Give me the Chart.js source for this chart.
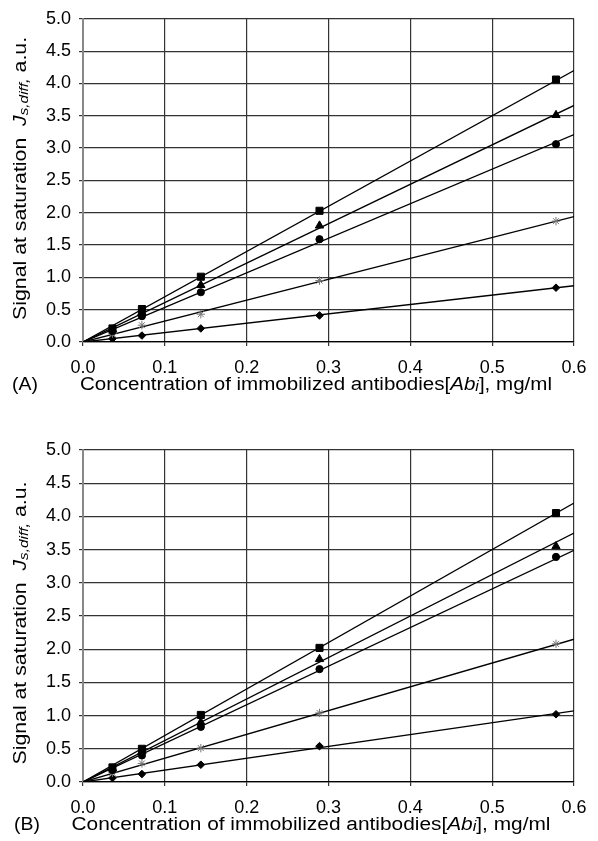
<!DOCTYPE html>
<html>
<head>
<meta charset="utf-8">
<script src="https://cdn.jsdelivr.net/npm/chart.js@4/dist/chart.umd.min.js"></script>
<style>
body{margin:0;background:#fff;}
canvas{display:block;}
</style>
</head>
<body>
<canvas id="chartA" width="598" height="420"></canvas>
<canvas id="chartB" width="598" height="421"></canvas>
<script>
// concentrations of immobilized antibodies, mg/ml
const conc = [0.036, 0.072, 0.144, 0.289, 0.578];
const xTicks = [0, 0.1, 0.2, 0.3, 0.4, 0.5, 0.6];
const yTicks = [0, 0.5, 1, 1.5, 2, 2.5, 3, 3.5, 4, 4.5, 5];

// panel A
const aSquare = [0.21, 0.51, 1.01, 2.03, 4.06];
const aTriangle = [0.19, 0.46, 0.88, 1.80, 3.51];
const aCircle = [0.17, 0.40, 0.77, 1.59, 3.06];
const aStar = [0.13, 0.26, 0.43, 0.95, 1.87];
const aDiamond = [0.05, 0.10, 0.21, 0.41, 0.84];
const aFitEnd = [4.20, 3.66, 3.21, 1.94, 0.87]; // trend line value at x = 0.6

// panel B
const bSquare = [0.22, 0.50, 1.01, 2.02, 4.05];
const bTriangle = [0.20, 0.46, 0.90, 1.85, 3.55];
const bCircle = [0.18, 0.40, 0.83, 1.70, 3.39];
const bStar = [0.14, 0.28, 0.51, 1.04, 2.08];
const bDiamond = [0.06, 0.12, 0.26, 0.54, 1.02];
const bFitEnd = [4.20, 3.75, 3.49, 2.15, 1.07];

const FONT = "'Liberation Sans', Arial, sans-serif";

// draws a row of text pieces with their own style
function richText(ctx, parts, x, y){
    parts.forEach(p=>{
        ctx.font = (p.italic ? 'italic ' : '') + p.size + 'px ' + FONT;
        ctx.fillText(p.t, x, y + (p.dy || 0));
        x += ctx.measureText(p.t).width;
    })
}
function richWidth(ctx, parts){
    let w = 0;
    parts.forEach(p=>{
        ctx.font = (p.italic ? 'italic ' : '') + p.size + 'px ' + FONT;
        w += ctx.measureText(p.t).width;
    })
    return w;
}

const titles = {
    id: 'titles',
    afterDraw(chart, args, opts){
        let ctx = chart.ctx;
        let area = chart.chartArea;
        ctx.save();
        ctx.fillStyle = '#000';
        ctx.textBaseline = 'alphabetic';
        ctx.textAlign = 'left';

        let xParts = [
            {t:'Concentration of immobilized antibodies[', size:18},
            {t:'Ab', size:18, italic:true},
            {t:'i', size:14, italic:true, dy:1},
            {t:'], mg/ml', size:18}
        ];
        let base = area.bottom + 48;
        let w = richWidth(ctx, xParts);
        let sx = opts.xLen / w;
        ctx.save();
        ctx.translate(opts.xCenter - opts.xLen/2, base);
        ctx.scale(sx, 1);
        richText(ctx, xParts, 0, 0);
        ctx.restore();

        ctx.save();
        ctx.translate(opts.labelX, base);
        ctx.scale(1.08, 1);
        richText(ctx, [{t:opts.label, size:18}], 0, 0);
        ctx.restore();

        let yParts = [
            {t:'Signal at saturation  ', size:18},
            {t:'J', size:18, italic:true},
            {t:'s,diff', size:13, italic:true, dy:2},
            {t:',', size:14, italic:true, dy:2},
            {t:' a.u.', size:18}
        ];
        let wy = richWidth(ctx, yParts);
        let sy = opts.yLen / wy;
        let cy = (area.top + area.bottom)/2 + opts.yShift;
        ctx.translate(26, cy + opts.yLen/2);
        ctx.rotate(-Math.PI/2);
        ctx.scale(sy, 1);
        richText(ctx, yParts, 0, 0);
        ctx.restore();
    }
};

function chart(id, sq, tri, cir, star, dia, fitEnd, topPad, xHeight, opts){
    let ctx = document.getElementById(id).getContext('2d');
    let series = [sq, tri, cir, star, dia];
    let styles = ['rect', 'triangle', 'circle', 'star', 'rectRot'];
    let radius = [5, 4.8, 3.6, 4.2, 3.8];
    let colors = ['#000', '#000', '#000', '#777', '#000'];
    let datasets = [];
    series.forEach((vals, i)=>{
        datasets.push({
            data: vals.map((v, k)=>({x: conc[k], y: v})),
            showLine: false,
            pointStyle: styles[i],
            pointRadius: radius[i],
            backgroundColor: colors[i],
            borderColor: colors[i],
            borderWidth: 1,
            order: 0
        });
        datasets.push({
            data: [{x:0, y:0}, {x:0.6, y:fitEnd[i]}],
            showLine: true,
            pointRadius: 0,
            borderColor: '#000',
            borderWidth: 1.3,
            order: 1
        });
    })
    return new Chart(ctx, {
        type: 'scatter',
        data: {datasets: datasets},
        plugins: [titles],
        options: {
            responsive: false,
            animation: false,
            events: [],
            layout: {padding: {top: topPad, right: 24, left: 0, bottom: 0}},
            plugins: {
                legend: {display: false},
                tooltip: {enabled: false},
                titles: opts
            },
            scales: {
                x: {
                    type: 'linear',
                    min: 0, max: 0.6,
                    afterFit: s=>{ s.height = xHeight; },
                    afterBuildTicks: s=>{ s.ticks = xTicks.map(v=>({value:v})); },
                    ticks: {
                        color: '#000',
                        padding: 11,
                        maxRotation: 0,
                        font: {family: FONT, size: 18},
                        callback: v=>Number(v).toFixed(1)
                    },
                    grid: {color: '#333', lineWidth: 1.2, tickLength: 4},
                    border: {color: '#000', width: 1.3}
                },
                y: {
                    type: 'linear',
                    min: 0, max: 5,
                    afterFit: s=>{ s.width = 83; },
                    afterBuildTicks: s=>{ s.ticks = yTicks.map(v=>({value:v})); },
                    ticks: {
                        color: '#000',
                        padding: 8,
                        font: {family: FONT, size: 18},
                        callback: v=>Number(v).toFixed(1)
                    },
                    grid: {color: '#333', lineWidth: 1.2, tickLength: 4},
                    border: {color: '#888', width: 2}
                }
            }
        }
    });
}

chart('chartA', aSquare, aTriangle, aCircle, aStar, aDiamond, aFitEnd, 10, 78,
    {label: '(A)', labelX: 12, xCenter: 316, xLen: 472, yShift: -2, yLen: 283});
chart('chartB', bSquare, bTriangle, bCircle, bStar, bDiamond, bFitEnd, 30, 59,
    {label: '(B)', labelX: 14, xCenter: 311, xLen: 479, yShift: 7, yLen: 283});
</script>
</body>
</html>
